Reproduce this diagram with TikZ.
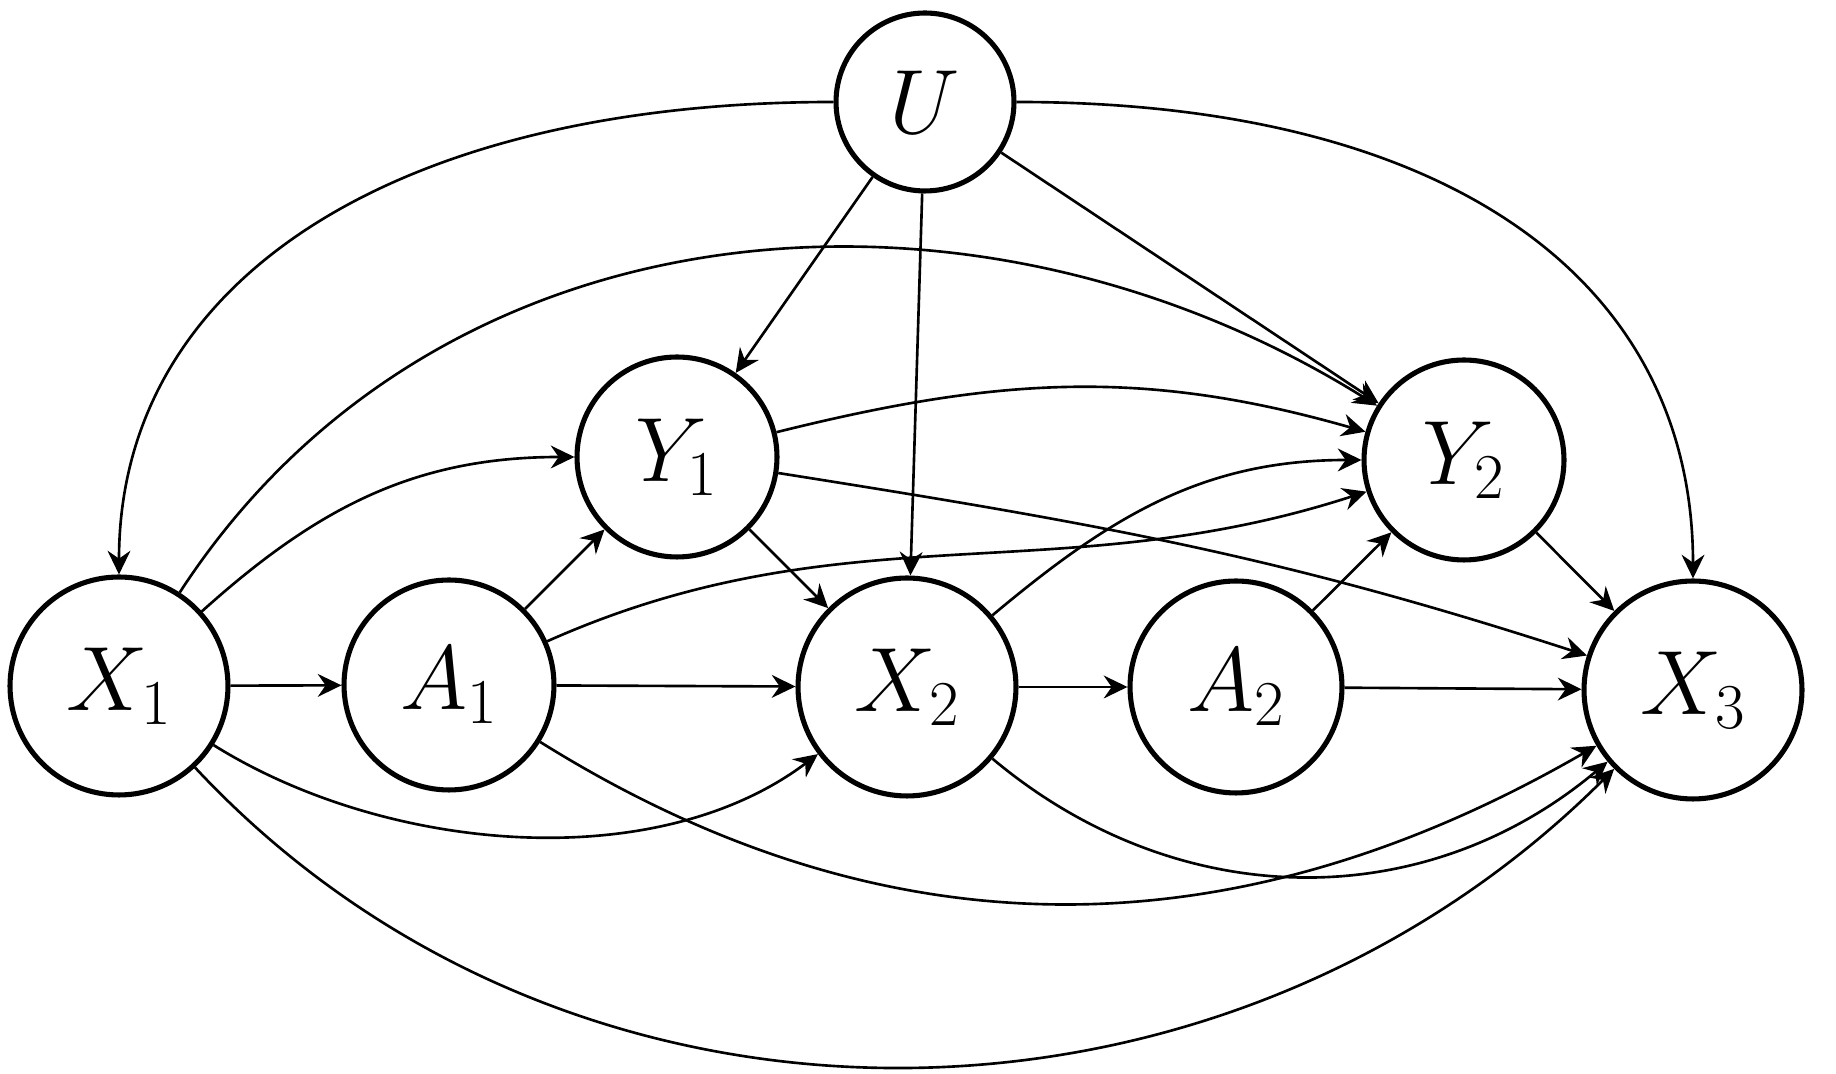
\RequirePackage{fix-cm}
\documentclass[tikz,border=0pt]{standalone}
\usetikzlibrary{arrows.meta}
\begin{document}
\begin{tikzpicture}[x=0.02cm,y=0.02cm,
  nd/.style={circle, draw, line width=2.9pt, inner sep=0pt, font=\fontsize{52}{60}\selectfont},
  ar/.style={-{Stealth[length=13.5pt,width=13pt,inset=4.5pt]}, line width=1.5pt}]
\useasboundingbox (0,0) rectangle (1836,1074);
\fill[white] (0,0) rectangle (1836,1074);
% nodes (y measured from bottom)
\node[nd, minimum size=3.56cm] (U)  at (925,972) {$U$};
\node[nd, minimum size=4.0cm] (Y1) at (677,617) {$Y_1$};
\node[nd, minimum size=4.0cm] (Y2) at (1464,614) {$Y_2$};
\node[nd, minimum size=4.36cm] (X1) at (119,388) {$X_1$};
\node[nd, minimum size=4.2cm] (A1) at (449,389) {$A_1$};
\node[nd, minimum size=4.36cm] (X2) at (907,387) {$X_2$};
\node[nd, minimum size=4.24cm] (A2) at (1236,387) {$A_2$};
\node[nd, minimum size=4.36cm] (X3) at (1693,384) {$X_3$};
% edges from U
\draw[ar] (U.west) .. controls +(-430,0) and +(0,300) .. (X1.north);
\draw[ar] (U.east) .. controls +(430,0) and +(0,300) .. (X3.north);
\draw[ar] (U) -- (Y1);
\draw[ar] (U) -- (X2);
\draw[ar] (U) -- (Y2);
% edges from X1
\draw[ar] (X1) -- (A1);
\draw[ar] (X1) to[out=42,in=180] (Y1);
\draw[ar] (X1) to[out=57,in=148] (Y2);
\draw[ar] (X1) to[out=-32,in=-143,looseness=0.86] (X2);
\draw[ar] (X1) to[out=-47,in=-135] (X3);
% edges from A1
\draw[ar] (A1) -- (Y1);
\draw[ar] (A1) -- (X2);
\draw[ar] (A1) to[out=24,in=-162] (Y2);
\draw[ar] (A1) to[out=-32,in=-150] (X3);
% edges from Y1
\draw[ar] (Y1) to[out=14,in=164] (Y2);
\draw[ar] (Y1) -- (X2);
\draw[ar] (Y1) to[out=-9,in=162] (X3);
% edges from X2
\draw[ar] (X2) to[out=40,in=180] (Y2);
\draw[ar] (X2) -- (A2);
\draw[ar] (X2) to[out=-40,in=-140] (X3);
% edges from A2
\draw[ar] (A2) -- (Y2);
\draw[ar] (A2) -- (X3);
% edge from Y2
\draw[ar] (Y2) -- (X3);
\end{tikzpicture}
\end{document}
